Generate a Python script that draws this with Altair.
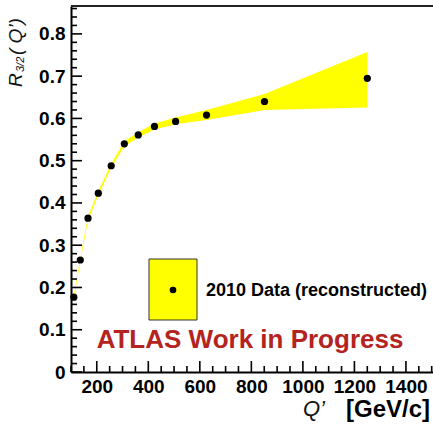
import altair as alt
import numpy as np
import pandas as pd

# Measured ratio R_3/2 versus Q' with its uncertainty band
q_prime = [111, 136, 166, 206, 256, 307, 361, 424, 506, 626, 851, 1250]
r32 = [0.177, 0.265, 0.364, 0.423, 0.488, 0.540, 0.561, 0.581, 0.593, 0.608, 0.640, 0.695]
band_low = [0.173, 0.261, 0.359, 0.418, 0.483, 0.534, 0.555, 0.574, 0.586, 0.596, 0.620, 0.626]
band_high = [0.181, 0.269, 0.369, 0.428, 0.493, 0.546, 0.567, 0.588, 0.602, 0.620, 0.658, 0.757]

x_labels = [200, 400, 600, 800, 1000, 1200, 1400]
y_labels = [0, 0.1, 0.2, 0.3, 0.4, 0.5, 0.6, 0.7, 0.8]
x_minor = [v for v in range(100, 1501, 50) if v not in x_labels]
y_minor = [round(v, 2) for v in np.arange(0.02, 0.861, 0.02) if round(v * 10, 6) % 1 != 0]

legend_label = "2010 Data (reconstructed)"
banner = "ATLAS Work in Progress"

FONT = "Liberation Sans"
W, H = 362, 366
xscale = alt.Scale(domain=[100, 1505], nice=False, zero=False)
yscale = alt.Scale(domain=[0, 0.866], nice=False, zero=False)

df = pd.DataFrame({"q": q_prime, "r": r32, "lo": band_low, "hi": band_high})
one = pd.DataFrame({"k": [0]})  # single row for annotation marks

band = alt.Chart(df).mark_area(color="#ffff00", opacity=1).encode(
    x=alt.X("q:Q", scale=xscale, title=""),
    y=alt.Y("lo:Q", scale=yscale, title=""),
    y2="hi:Q",
)

points = alt.Chart(df).mark_circle(color="#000", size=52, opacity=1).encode(
    x=alt.X("q:Q", scale=xscale, title=""),
    y=alt.Y("r:Q", scale=yscale, title=""),
)

# inward-pointing tick marks
def y_ticks(vals, length):
    return alt.Chart(pd.DataFrame({"v": vals})).mark_rule(color="#000", strokeWidth=1.6).encode(
        y=alt.Y("v:Q", scale=yscale, title=""),
        x=alt.value(0), x2=alt.value(length),
    )

def x_ticks(vals, length):
    return alt.Chart(pd.DataFrame({"v": vals})).mark_rule(color="#000", strokeWidth=1.6).encode(
        x=alt.X("v:Q", scale=xscale, title=""),
        y=alt.value(H), y2=alt.value(H - length),
    )

top_line = alt.Chart(one).mark_rule(color="#222", strokeWidth=2).encode(
    x=alt.value(0), x2=alt.value(W), y=alt.value(0)
)

# legend entry
leg_box = alt.Chart(one).mark_rect(fill="#ffff00", stroke="#333", strokeWidth=1).encode(
    x=alt.value(78), x2=alt.value(126), y=alt.value(253), y2=alt.value(314)
)
leg_dot = alt.Chart(one).mark_circle(color="#000", size=44, opacity=1).encode(
    x=alt.value(102), y=alt.value(284)
)
leg_text = alt.Chart(one).mark_text(
    text=legend_label, font=FONT, fontWeight="bold", fontSize=18, color="#000",
    align="left", baseline="middle"
).encode(x=alt.value(135), y=alt.value(285))

banner_text = alt.Chart(one).mark_text(
    text=banner, font=FONT, fontWeight="bold", fontSize=26, color="#b5231f",
    align="center", baseline="alphabetic"
).encode(x=alt.value(179), y=alt.value(342))

# y-axis title R_{3/2}( Q')
ytitle_r = alt.Chart(one).mark_text(
    text="R", font=FONT, fontStyle="italic", fontWeight="normal", fontSize=19, color="#111",
    angle=270, align="left", baseline="alphabetic"
).encode(x=alt.value(-49.5), y=alt.value(81))
ytitle_sub = alt.Chart(one).mark_text(
    text="3/2", font=FONT, fontStyle="italic", fontWeight="normal", fontSize=11, color="#111",
    angle=270, align="left", baseline="alphabetic"
).encode(x=alt.value(-47), y=alt.value(66))
ytitle_q = alt.Chart(one).mark_text(
    text="( Q\u2019)", font=FONT, fontStyle="italic", fontWeight="normal", fontSize=19, color="#111",
    angle=270, align="left", baseline="alphabetic"
).encode(x=alt.value(-49.5), y=alt.value(49))

# x-axis title Q' [GeV/c]
xtitle_q = alt.Chart(one).mark_text(
    text="Q\u2019", font=FONT, fontStyle="italic", fontWeight="normal", fontSize=22, color="#111",
    align="right", baseline="alphabetic"
).encode(x=alt.value(254), y=alt.value(410))
xtitle_unit = alt.Chart(one).mark_text(
    text="[GeV/c]", font=FONT, fontWeight="bold", fontSize=24, color="#000",
    align="right", baseline="alphabetic"
).encode(x=alt.value(359), y=alt.value(411))

chart = alt.layer(
    band, points,
    y_ticks(y_labels, 11), y_ticks(y_minor, 6),
    x_ticks(x_labels, 11), x_ticks(x_minor, 6),
    top_line, leg_box, leg_dot, leg_text, banner_text,
    ytitle_r, ytitle_sub, ytitle_q, xtitle_q, xtitle_unit,
).properties(
    width=W, height=H,
    autosize=alt.AutoSizeParams(type="none"),
    padding={"left": 71, "top": 6, "right": 0, "bottom": 57},
    background="white",
).configure_view(
    stroke=None
).configure_axis(
    grid=False, ticks=False, domain=True, domainColor="#000", domainWidth=2,
    labelFont=FONT, labelFontWeight="bold", labelFontSize=19, labelColor="#000",
    labelFlush=False, labelOverlap=False,
).configure_axisX(
    tickCount=len(x_labels), labelPadding=5,
    labelExpr="format(datum.value, 'd')",
).configure_axisY(
    tickCount=len(y_labels), labelPadding=6,
    labelExpr="datum.value == 0 ? '0' : format(datum.value, '.1f')",
)

chart.save("out.html", embed_options={"renderer": "svg", "actions": False})
